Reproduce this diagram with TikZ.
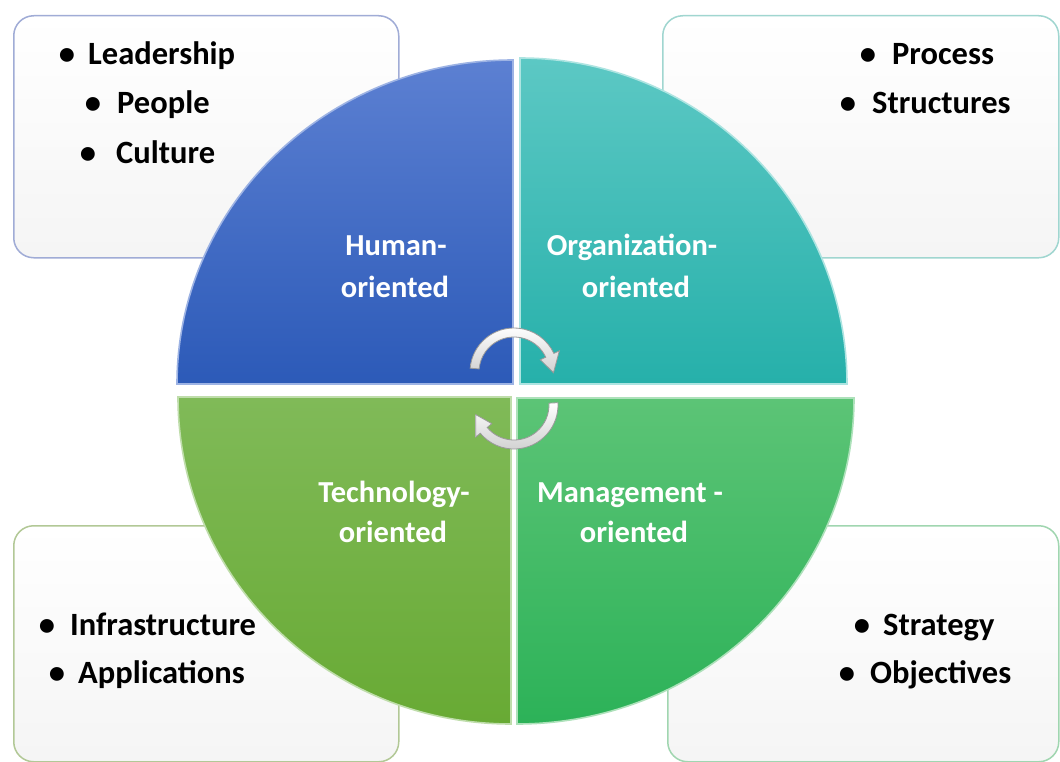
\documentclass[tikz,border=0pt]{standalone}
\usepackage{fontspec}
\setmainfont{Carlito}
\definecolor{bTop}{RGB}{92,128,210}
\definecolor{bBot}{RGB}{44,90,184}
\definecolor{tTop}{RGB}{92,200,196}
\definecolor{tBot}{RGB}{38,176,170}
\definecolor{gTop}{RGB}{128,186,88}
\definecolor{gBot}{RGB}{104,170,52}
\definecolor{mTop}{RGB}{92,196,118}
\definecolor{mBot}{RGB}{44,178,88}
\definecolor{edgeTL}{RGB}{160,172,214}
\definecolor{edgeTR}{RGB}{160,214,208}
\definecolor{edgeBL}{RGB}{178,200,150}
\definecolor{edgeBR}{RGB}{160,214,176}
\begin{document}
\begin{tikzpicture}[x=1bp,y=-1bp,
  box/.style={rounded corners=20bp, line width=1.5bp, top color=white, bottom color=black!4, inner sep=0pt, anchor=north west},
  quad/.style={line width=1.6bp},
  wtext/.style={text=white, font=\fontsize{30.5bp}{36bp}\selectfont\bfseries, anchor=base, inner sep=0pt},
  btext/.style={text=black, font=\fontsize{32.5bp}{38bp}\selectfont\bfseries, inner sep=0pt},
  cyc/.style={top color=white, bottom color=black!18, draw=black!40, line width=0.8bp}
]
\useasboundingbox (0,0) rectangle (1060,762);
\fill[white] (0,0) rectangle (1060,762);
% boxes
\node[box, draw=edgeTL, minimum width=385bp, minimum height=242bp] (boxTL) at (13,15) {};
\node[box, draw=edgeTR, minimum width=396bp, minimum height=242bp] (boxTR) at (662,15) {};
\node[box, draw=edgeBL, minimum width=385bp, minimum height=236bp] (boxBL) at (13,525) {};
\node[box, draw=edgeBR, minimum width=391bp, minimum height=236bp] (boxBR) at (667,525) {};
% quadrants
\path[quad, top color=bTop, bottom color=bBot, draw=bTop!60!white]
  (513,384) -- (177,384) arc[start angle=180, end angle=270, x radius=336, y radius=324] -- cycle;
\path[quad, top color=tTop, bottom color=tBot, draw=tTop!50!white]
  (520,384) -- (520,58) arc[start angle=270, end angle=360, x radius=327, y radius=326] -- cycle;
\path[quad, top color=mTop, bottom color=mBot, draw=mTop!50!white]
  (517,398) -- (854,398) arc[start angle=0, end angle=90, x radius=337, y radius=326] -- cycle;
\path[quad, top color=gTop, bottom color=gBot, draw=gTop!50!white]
  (511,397) -- (511,724) arc[start angle=90, end angle=180, x radius=333, y radius=327] -- cycle;
% quadrant labels
\node[wtext] (h1) at (396,255) {Human-};
\node[wtext] (h2) at (395,297) {oriented};
\node[wtext] (o1) at (632,255) {Organization-};
\node[wtext] (o2) at (636,297) {oriented};
\node[wtext] (t1) at (394,502) {Technology-};
\node[wtext] (t2) at (393,542) {oriented};
\node[wtext] (m1) at (630,502) {Management -};
\node[wtext] (m2) at (634,542) {oriented};
% bullet lists
\newcommand\bline[5]{%
  \node[btext, anchor=base] (#1b) at (#2,#4) {\textbullet};
  \node[btext, anchor=base west] (#1) at (#3,#4) {#5};}
\bline{lead}{67}{88}{65}{Leadership}
\bline{peop}{93}{117}{113}{People}
\bline{cult}{88}{116}{163}{Culture}
\bline{proc}{868}{892}{65}{Process}
\bline{stru}{848}{872}{113}{Structures}
\bline{infr}{47}{70}{635}{Infrastructure}
\bline{appl}{57}{78}{683}{Applications}
\bline{stra}{862}{883}{635}{Strategy}
\bline{obje}{847}{870}{683}{Objectives}
% cycle arrows
\coordinate (cu) at (514,372);
\coordinate (cd) at (514,405);
\path[cyc] ([shift={(185:35)}]cu) -- ([shift={(185:44)}]cu)
  arc[start angle=185, end angle=335, radius=44]
  -- ([shift={(335:50)}]cu) -- ([shift={(361:39.5)}]cu) -- ([shift={(335:29)}]cu)
  -- ([shift={(335:35)}]cu) arc[start angle=335, end angle=185, radius=35] -- cycle;
\path[cyc] ([shift={(-3:35)}]cd) -- ([shift={(-3:44)}]cd)
  arc[start angle=-3, end angle=140, radius=44]
  -- ([shift={(140:50)}]cd) -- ([shift={(166:39.5)}]cd) -- ([shift={(140:29)}]cd)
  -- ([shift={(140:35)}]cd) arc[start angle=140, end angle=-3, radius=35] -- cycle;
\end{tikzpicture}
\end{document}
